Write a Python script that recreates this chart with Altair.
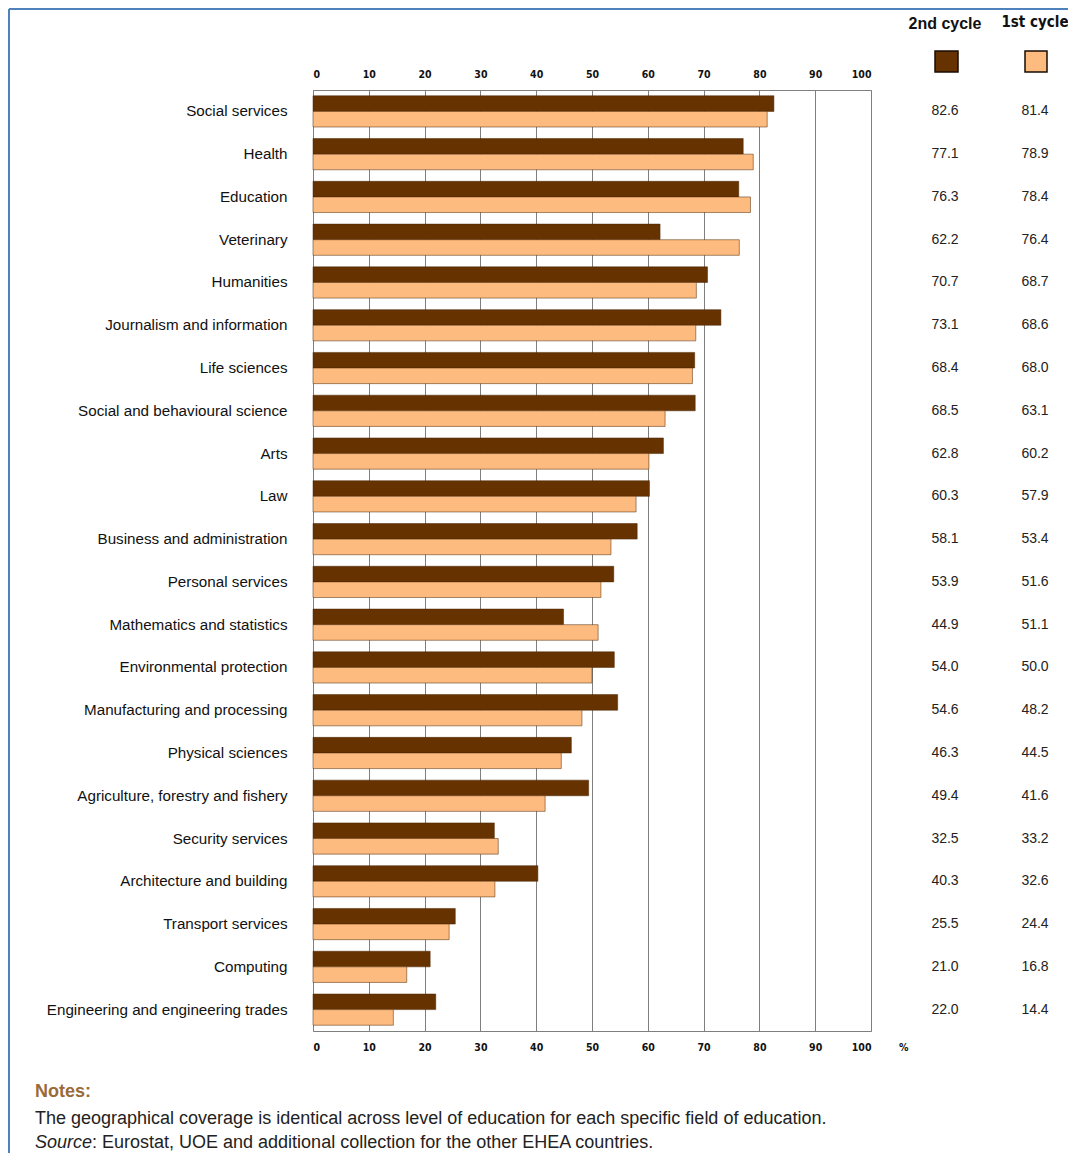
import altair as alt
import pandas as pd

categories = ["Social services", "Health", "Education", "Veterinary", "Humanities",
              "Journalism and information", "Life sciences", "Social and behavioural science",
              "Arts", "Law", "Business and administration", "Personal services",
              "Mathematics and statistics", "Environmental protection",
              "Manufacturing and processing", "Physical sciences",
              "Agriculture, forestry and fishery", "Security services",
              "Architecture and building", "Transport services", "Computing",
              "Engineering and engineering trades"]
second_cycle = [82.6, 77.1, 76.3, 62.2, 70.7, 73.1, 68.4, 68.5, 62.8, 60.3, 58.1,
                53.9, 44.9, 54.0, 54.6, 46.3, 49.4, 32.5, 40.3, 25.5, 21.0, 22.0]
first_cycle = [81.4, 78.9, 78.4, 76.4, 68.7, 68.6, 68.0, 63.1, 60.2, 57.9, 53.4,
               51.6, 51.1, 50.0, 48.2, 44.5, 41.6, 33.2, 32.6, 24.4, 16.8, 14.4]
series = ["2nd cycle", "1st cycle"]
colors = ["#663300", "#FDBB80"]
tick_values = [0, 10, 20, 30, 40, 50, 60, 70, 80, 90, 100]
notes_title = "Notes:"
note_line = "The geographical coverage is identical across level of education for each specific field of education."
source_label = "Source"
source_text = ": Eurostat, UOE and additional collection for the other EHEA countries."

long_df = pd.DataFrame({
    "category": categories * 2,
    "series": [series[0]] * len(categories) + [series[1]] * len(categories),
    "value": second_cycle + first_cycle,
})
wide_df = pd.DataFrame({"category": categories, "second": second_cycle, "first": first_cycle})
ticks_df = pd.DataFrame({"t": tick_values})
one = pd.DataFrame({"a": [0]})

NARROW = "Liberation Sans Narrow, DejaVu Sans Condensed, Arial Narrow, sans-serif"
SANS = "Liberation Sans, Arial, sans-serif"

xscale = alt.Scale(domain=[0, 100], nice=False, zero=True)
yenc = alt.Y("category:N", sort=categories,
             scale=alt.Scale(paddingInner=0.27, paddingOuter=0.135),
             axis=alt.Axis(title=None, ticks=False, domain=False, labelPadding=26,
                           labelFontSize=15.2, labelFont=SANS, labelColor="#111111",
                           labelLimit=400))

bars = alt.Chart(long_df).mark_bar(stroke="#4a2500", strokeWidth=0.5).encode(
    x=alt.X("value:Q", scale=xscale,
            axis=alt.Axis(orient="top", values=tick_values, title=None, grid=True,
                          ticks=False, domain=False, labelPadding=11,
                          labelFont=NARROW, labelFontWeight="bold", labelFontSize=10.5,
                          labelColor="#111111", gridColor="#7f7f7f", gridWidth=1,
                          gridOpacity=1)),
    y=yenc,
    yOffset=alt.YOffset("series:N", sort=series,
                        scale=alt.Scale(paddingInner=0, paddingOuter=0)),
    color=alt.Color("series:N", scale=alt.Scale(domain=series, range=colors), legend=None),
)

bottom_axis = alt.Chart(ticks_df).mark_rule(opacity=0).encode(
    x=alt.X("t:Q", scale=xscale,
            axis=alt.Axis(orient="bottom", values=tick_values, title=None, grid=False,
                          ticks=False, domain=False, labelPadding=11,
                          labelFont=NARROW, labelFontWeight="bold", labelFontSize=10.5,
                          labelColor="#111111")),
)

val2 = alt.Chart(wide_df).mark_text(font=SANS, fontSize=14, color="#222222").encode(
    x=alt.value(632), y=alt.Y("category:N", sort=categories),
    text=alt.Text("second:Q", format=".1f"))
val1 = alt.Chart(wide_df).mark_text(font=SANS, fontSize=14, color="#222222").encode(
    x=alt.value(722), y=alt.Y("category:N", sort=categories),
    text=alt.Text("first:Q", format=".1f"))

head2 = alt.Chart(one).mark_text(font=SANS, fontSize=16, fontWeight="bold", color="#111111").encode(
    x=alt.value(632), y=alt.value(-66), text=alt.value(series[0]))
head1 = alt.Chart(one).mark_text(font=NARROW, fontSize=15, fontWeight="bold", color="#111111").encode(
    x=alt.value(722), y=alt.value(-68), text=alt.value(series[1]))

sw2 = alt.Chart(one).mark_rect(fill=colors[0], stroke="#1a0d00", strokeWidth=1.5).encode(
    x=alt.value(622), x2=alt.value(645), y=alt.value(-39), y2=alt.value(-18))
sw1 = alt.Chart(one).mark_rect(fill=colors[1], stroke="#1a0d00", strokeWidth=1.5).encode(
    x=alt.value(712), x2=alt.value(734), y=alt.value(-39), y2=alt.value(-18))

pct = alt.Chart(one).mark_text(font=NARROW, fontSize=10.5, fontWeight="bold", color="#111111",
                               align="left").encode(
    x=alt.value(586), y=alt.value(958), text=alt.value("%"))

notes_t = alt.Chart(one).mark_text(font=SANS, fontSize=18, fontWeight="bold", color="#9a6a3a",
                                   align="left").encode(
    x=alt.value(-278), y=alt.value(1002), text=alt.value(notes_title))
note_l = alt.Chart(one).mark_text(font=SANS, fontSize=18, color="#222222", align="left").encode(
    x=alt.value(-278), y=alt.value(1029), text=alt.value(note_line))
src_l = alt.Chart(one).mark_text(font=SANS, fontSize=18, fontStyle="italic", color="#222222",
                                 align="left").encode(
    x=alt.value(-278), y=alt.value(1053), text=alt.value(source_label))
src_t = alt.Chart(one).mark_text(font=SANS, fontSize=18, color="#222222", align="left").encode(
    x=alt.value(-221), y=alt.value(1053), text=alt.value(source_text))

frame_top = alt.Chart(one).mark_rule(color="#4F81BD", strokeWidth=2).encode(
    x=alt.value(-304), x2=alt.value(760), y=alt.value(-81))
frame_left = alt.Chart(one).mark_rule(color="#4F81BD", strokeWidth=2).encode(
    x=alt.value(-304), y=alt.value(-81), y2=alt.value(1070))

chart = alt.layer(
    bars, bottom_axis, val2, val1, head2, head1, sw2, sw1, pct,
    notes_t, note_l, src_l, src_t, frame_top, frame_left
).resolve_axis(x="independent").properties(
    width=558, height=941,
    autosize=alt.AutoSizeParams(type="none"),
    padding={"left": 305, "top": 82, "right": 197, "bottom": 122},
).configure_view(stroke="#7f7f7f", strokeWidth=1)

chart.save("out.html", embed_options={"renderer": "svg", "actions": False})
